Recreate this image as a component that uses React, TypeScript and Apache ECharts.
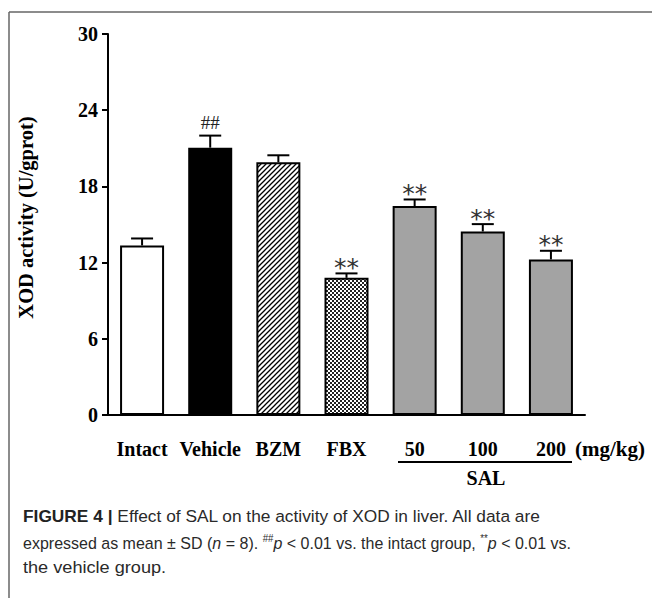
import React, { useEffect, useRef } from 'react';
import * as echarts from 'echarts';

const categories = ['Intact', 'Vehicle', 'BZM', 'FBX', '50', '100', '200'];
const means = [13.35, 21.05, 19.9, 10.8, 16.45, 14.45, 12.25];
const sds = [0.55, 0.95, 0.55, 0.35, 0.52, 0.58, 0.68];
const marks = ['', '##', '', '**', '**', '**', '**'];
const yMin = 0;
const yMax = 30;
const yStep = 6;
const yAxisTitle = 'XOD activity (U/gprot)';
const unitLabel = '(mg/kg)';
const groupLabel = 'SAL';

const SERIF = '"Liberation Serif", "Times New Roman", serif';
const SANS = '"Liberation Sans", Arial, sans-serif';

function makeHatch(): HTMLCanvasElement {
  const s = 5;
  const c = document.createElement('canvas');
  c.width = s;
  c.height = s;
  const g = c.getContext('2d')!;
  g.fillStyle = '#fff';
  g.fillRect(0, 0, s, s);
  g.strokeStyle = '#000';
  g.lineWidth = 1.3;
  g.beginPath();
  g.moveTo(-1, s + 1);
  g.lineTo(s + 1, -1);
  g.moveTo(-2, 2);
  g.lineTo(2, -2);
  g.moveTo(s - 2, s + 2);
  g.lineTo(s + 2, s - 2);
  g.stroke();
  return c;
}

function makeChecker(): HTMLCanvasElement {
  const c = document.createElement('canvas');
  c.width = 4;
  c.height = 4;
  const g = c.getContext('2d')!;
  g.fillStyle = '#fff';
  g.fillRect(0, 0, 4, 4);
  g.fillStyle = '#222';
  g.fillRect(0, 0, 2, 2);
  g.fillRect(2, 2, 2, 2);
  return c;
}

export default function App() {
  const ref = useRef<HTMLDivElement>(null);
  useEffect(() => {
    if (!ref.current) return;
    const chart = echarts.init(ref.current, undefined, { renderer: 'svg' });
    const hatch = { image: makeHatch(), repeat: 'repeat' };
    const checker = { image: makeChecker(), repeat: 'repeat' };
    const fills: any[] = ['#ffffff', '#000000', hatch, checker, '#a3a3a3', '#a3a3a3', '#a3a3a3'];

    const capFont = '16.5px ' + SANS;
    const option: any = {
      animation: false,
      backgroundColor: '#ffffff',
      grid: { left: 108, right: 67, top: 34, bottom: 183, containLabel: false },
      xAxis: {
        type: 'category',
        data: categories,
        axisLine: { lineStyle: { color: '#000', width: 2 } },
        axisTick: { alignWithLabel: true, length: 6, lineStyle: { color: '#000', width: 2 } },
        axisLabel: {
          color: '#000',
          fontFamily: SERIF,
          fontWeight: 'bold',
          fontSize: 20,
          margin: 24,
          interval: 0,
        },
      },
      yAxis: {
        type: 'value',
        min: yMin,
        max: yMax,
        interval: yStep,
        splitLine: { show: false },
        axisLine: { show: true, lineStyle: { color: '#000', width: 2 } },
        axisTick: { show: true, length: 6, lineStyle: { color: '#000', width: 2 } },
        axisLabel: {
          color: '#000',
          fontFamily: SERIF,
          fontWeight: 'bold',
          fontSize: 20,
          margin: 10,
        },
      },
      series: [
        {
          type: 'bar',
          barWidth: 44,
          data: means.map((v, i) => ({
            value: v,
            itemStyle: { color: fills[i], borderColor: '#000', borderWidth: 2 },
          })),
        },
        {
          type: 'custom',
          data: means.map((m, i) => [i, m, sds[i]]),
          encode: { x: 0, y: 1 },
          z: 5,
          renderItem: (params: any, api: any) => {
            const idx = api.value(0);
            const m = api.value(1);
            const sd = api.value(2);
            const base = api.coord([idx, m]);
            const top = api.coord([idx, m + sd]);
            const mk = marks[idx];
            const children: any[] = [
              {
                type: 'line',
                shape: { x1: base[0], y1: base[1], x2: top[0], y2: top[1] },
                style: { stroke: '#000', lineWidth: 2 },
              },
              {
                type: 'line',
                shape: { x1: top[0] - 11, y1: top[1], x2: top[0] + 11, y2: top[1] },
                style: { stroke: '#000', lineWidth: 2 },
              },
            ];
            if (mk === '##') {
              children.push({
                type: 'text',
                x: top[0],
                y: top[1] - 13,
                style: {
                  text: mk,
                  fill: '#222',
                  font: '19px ' + SERIF,
                  align: 'center',
                  verticalAlign: 'middle',
                },
              });
            } else if (mk) {
              children.push({
                type: 'text',
                x: top[0],
                y: top[1] - 6,
                style: {
                  text: mk,
                  fill: '#333',
                  font: '25px "DejaVu Sans", sans-serif',
                  align: 'center',
                  verticalAlign: 'middle',
                },
              });
            }
            return { type: 'group', children };
          },
        },
      ],
      graphic: [
        {
          type: 'line',
          shape: { x1: 9, y1: 12, x2: 652, y2: 12 },
          style: { stroke: '#666', lineWidth: 1.5 },
        },
        {
          type: 'line',
          shape: { x1: 9, y1: 12, x2: 9, y2: 598 },
          style: { stroke: '#666', lineWidth: 1.5 },
        },
        {
          type: 'text',
          x: 26,
          y: 217.5,
          rotation: Math.PI / 2,
          style: {
            text: yAxisTitle,
            font: 'bold 20.5px ' + SERIF,
            fill: '#000',
            align: 'center',
            verticalAlign: 'middle',
          },
        },
        {
          type: 'text',
          x: 575,
          y: 449,
          style: {
            text: unitLabel,
            font: 'bold 21px ' + SERIF,
            fill: '#000',
            align: 'left',
            verticalAlign: 'middle',
          },
        },
        {
          type: 'line',
          shape: { x1: 398, y1: 462, x2: 572, y2: 462 },
          style: { stroke: '#000', lineWidth: 2 },
        },
        {
          type: 'text',
          x: 486,
          y: 478,
          style: {
            text: groupLabel,
            font: 'bold 20px ' + SERIF,
            fill: '#000',
            align: 'center',
            verticalAlign: 'middle',
          },
        },
        {
          type: 'text',
          x: 23,
          y: 517,
          scaleX: 1.05,
          style: {
            text: '{b|FIGURE 4 |}{r| Effect of SAL on the activity of XOD in liver. All data are}',
            align: 'left',
            verticalAlign: 'middle',
            rich: {
              b: { font: 'bold 16.5px ' + SANS, fill: '#222' },
              r: { font: capFont, fill: '#2a2a2a' },
            },
          },
        },
        {
          type: 'text',
          x: 23,
          y: 542,
          scaleX: 0.97,
          style: {
            text:
              '{r|expressed as mean ± SD (}{i|n}{r| = 8). }{s|##}{i|p}{r| < 0.01 vs. the intact group, }{s|**}{i|p}{r| < 0.01 vs.}',
            align: 'left',
            verticalAlign: 'middle',
            rich: {
              r: { font: capFont, fill: '#2a2a2a', verticalAlign: 'bottom', lineHeight: 18 },
              i: { font: 'italic ' + capFont, fill: '#2a2a2a', verticalAlign: 'bottom', lineHeight: 18 },
              s: { font: '10px ' + SANS, fill: '#2a2a2a', verticalAlign: 'top', lineHeight: 10 },
            },
          },
        },
        {
          type: 'text',
          x: 23,
          y: 567,
          scaleX: 1.1,
          style: {
            text: 'the vehicle group.',
            font: capFont,
            fill: '#2a2a2a',
            align: 'left',
            verticalAlign: 'middle',
          },
        },
      ],
    };
    chart.setOption(option);
    return () => chart.dispose();
  }, []);
  return (
    <div
      ref={ref}
      style={{ position: 'absolute', left: 0, top: 0, width: 652, height: 598, background: '#fff' }}
    />
  );
}
